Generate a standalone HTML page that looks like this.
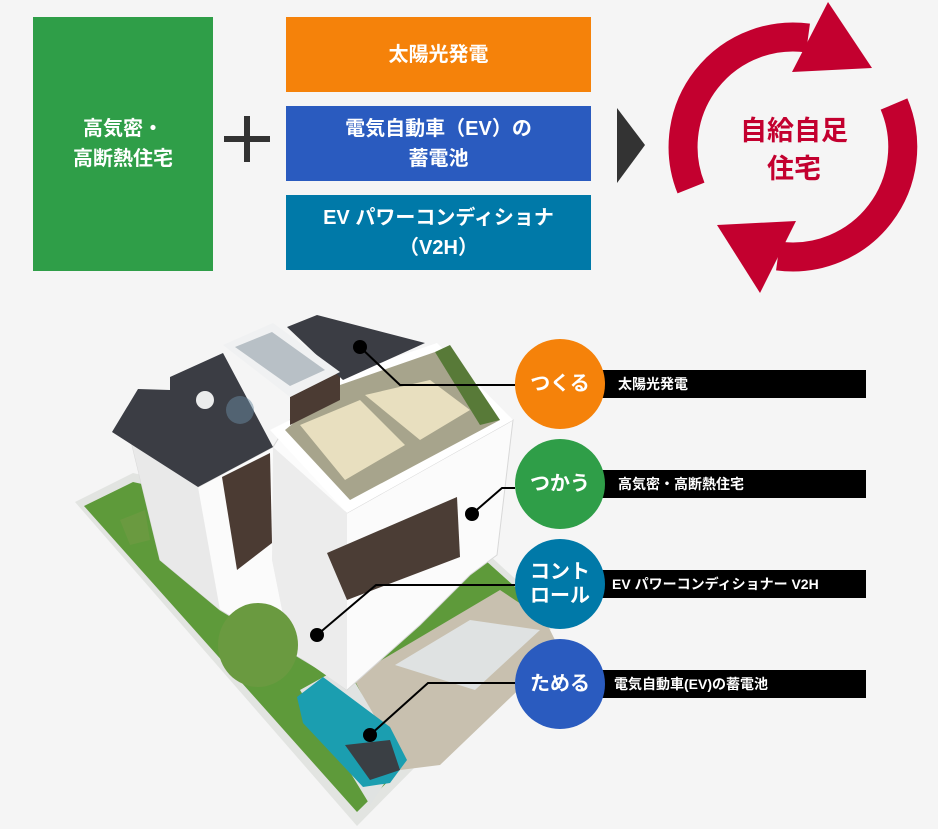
<!DOCTYPE html>
<html><head><meta charset="utf-8"><style>
body{margin:0;background:#f5f5f5;width:938px;height:829px;overflow:hidden;position:relative;font-family:"Liberation Sans","Noto Sans CJK JP",sans-serif;}
.b{position:absolute;color:#fff;font-weight:bold;display:flex;align-items:center;justify-content:center;text-align:center;font-size:20px;line-height:30px;}
.c{position:absolute;width:90px;height:90px;border-radius:50%;color:#fff;font-weight:bold;font-size:20px;line-height:24px;display:flex;align-items:center;justify-content:center;text-align:center;left:515px;}
.bar{position:absolute;left:600px;width:266px;height:28px;background:#000;color:#fff;font-weight:bold;font-size:14px;line-height:28px;padding-left:18px;box-sizing:border-box;}
</style></head><body>
<div class="b" style="left:33px;top:17px;width:180px;height:254px;background:#2f9e48;">高気密・<br>高断熱住宅</div>
<div class="b" style="left:286px;top:17px;width:305px;height:75px;background:#f5820a;">太陽光発電</div>
<div class="b" style="left:286px;top:106px;width:305px;height:75px;background:#2a5bbf;">電気自動車（EV）の<br>蓄電池</div>
<div class="b" style="left:286px;top:195px;width:305px;height:75px;background:#0079a8;">EV パワーコンディショナ<br>（V2H）</div>
<svg width="938" height="829" style="position:absolute;left:0;top:0">
<rect x="224" y="136" width="46" height="6" fill="#333"/><rect x="244" y="116" width="6" height="46" fill="#333"/>
<polygon points="617,108 645,145 617,183" fill="#333"/>
<g fill="none" stroke="#c3002f" stroke-width="29">
<path d="M691,188 A110,110 0 0 1 808,38"/>
<path d="M894,104 A110,110 0 0 1 778,256"/>
</g>
<polygon points="828,2 872,68 792,72" fill="#c3002f"/>
<polygon points="717,225 796,221 760,293" fill="#c3002f"/>
<text x="794" y="140" font-size="27" font-weight="bold" fill="#c3002f" text-anchor="middle" font-family="Liberation Sans, Noto Sans CJK JP, sans-serif">自給自足</text>
<text x="794" y="178" font-size="27" font-weight="bold" fill="#c3002f" text-anchor="middle" font-family="Liberation Sans, Noto Sans CJK JP, sans-serif">住宅</text>
<!-- lot -->
<polygon points="75,502 133,473 487,553 560,620 357,826" fill="#e2e4e1"/>
<polygon points="84,506 133,482 485,560 552,620 357,812" fill="#5e9a3a"/>
<polygon points="353,677 500,590 545,620 560,650 440,765 400,770" fill="#c8c0af"/>
<polygon points="395,665 470,620 540,630 475,690" fill="#dfe2e2"/>
<polygon points="300,690 345,665 400,760 370,805" fill="#e0e3e2"/>
<!-- house -->
<polygon points="132,445 198,487 273,447 290,420 347,513 513,420 497,555 470,575 420,625 347,690 320,670 270,640 220,610 160,560" fill="#fbfbfb" stroke="#d8d8d8" stroke-width="1"/>
<polygon points="132,445 198,487 220,610 160,560" fill="#e9e9e9"/>
<polygon points="273,447 347,513 347,690 290,650 272,560" fill="#ececec"/>
<polygon points="222,477 270,453 272,543 237,570" fill="#4b3b33"/>
<polygon points="327,553 457,497 460,557 347,600" fill="#4b3d35"/>
<polygon points="270,430 290,420 337,377 437,343 513,420 347,513" fill="#ffffff"/>
<polygon points="285,430 340,385 435,352 500,420 350,500" fill="#a7a48c"/>
<polygon points="300,425 360,400 405,445 345,480" fill="#e8dfbf"/>
<polygon points="365,395 430,380 470,410 420,440" fill="#e8dfbf"/>
<polygon points="435,352 450,345 500,420 480,425" fill="#587a38"/>
<polygon points="112,432 138,389 170,390 170,377 223,353 273,447 198,487" fill="#3b3d44"/>
<polygon points="290,397 340,372 340,400 290,425" fill="#4b3b33"/>
<polygon points="287,327 317,315 425,343 343,380" fill="#3b3d44"/>
<polygon points="223,345 273,323 340,372 290,397" fill="#f0f1f2"/>
<polygon points="235,347 272,332 325,370 290,386" fill="#b8c0c6"/>
<circle cx="205" cy="400" r="9" fill="#fff" opacity="0.9"/>
<circle cx="240" cy="410" r="14" fill="#6a8aa0" opacity="0.5"/>
<ellipse cx="258" cy="645" rx="40" ry="42" fill="#6a9a40"/>
<polygon points="120,520 145,510 150,540 130,545" fill="#6a9a40"/>
<path d="M297,697 L323,677 L390,727 L407,760 L390,783 L363,787 L303,723 Z" fill="#1b9eb0"/>
<polygon points="345,745 390,740 400,770 370,780" fill="#3a3f44"/>
<g stroke="#000" stroke-width="2" fill="none">
<polyline points="360,347 400,385 515,385"/>
<polyline points="472,514 502,488 515,488"/>
<polyline points="317,635 376,585 515,585"/>
<polyline points="370,735 428,683 515,683"/>
</g>
<g fill="#000"><circle cx="360" cy="347" r="7"/><circle cx="472" cy="514" r="7"/><circle cx="317" cy="635" r="7"/><circle cx="370" cy="735" r="7"/></g>
</svg>
<div class="bar" style="top:370px">太陽光発電</div>
<div class="bar" style="top:470px">高気密・高断熱住宅</div>
<div class="bar" style="top:570px;padding-left:12px">EV パワーコンディショナー V2H</div>
<div class="bar" style="top:670px;padding-left:14px">電気自動車(EV)の蓄電池</div>
<div class="c" style="top:339px;background:#f5820a">つくる</div>
<div class="c" style="top:439px;background:#2f9e48">つかう</div>
<div class="c" style="top:539px;background:#0079a8">コント<br>ロール</div>
<div class="c" style="top:639px;background:#2a5bbf">ためる</div>
</body></html>
